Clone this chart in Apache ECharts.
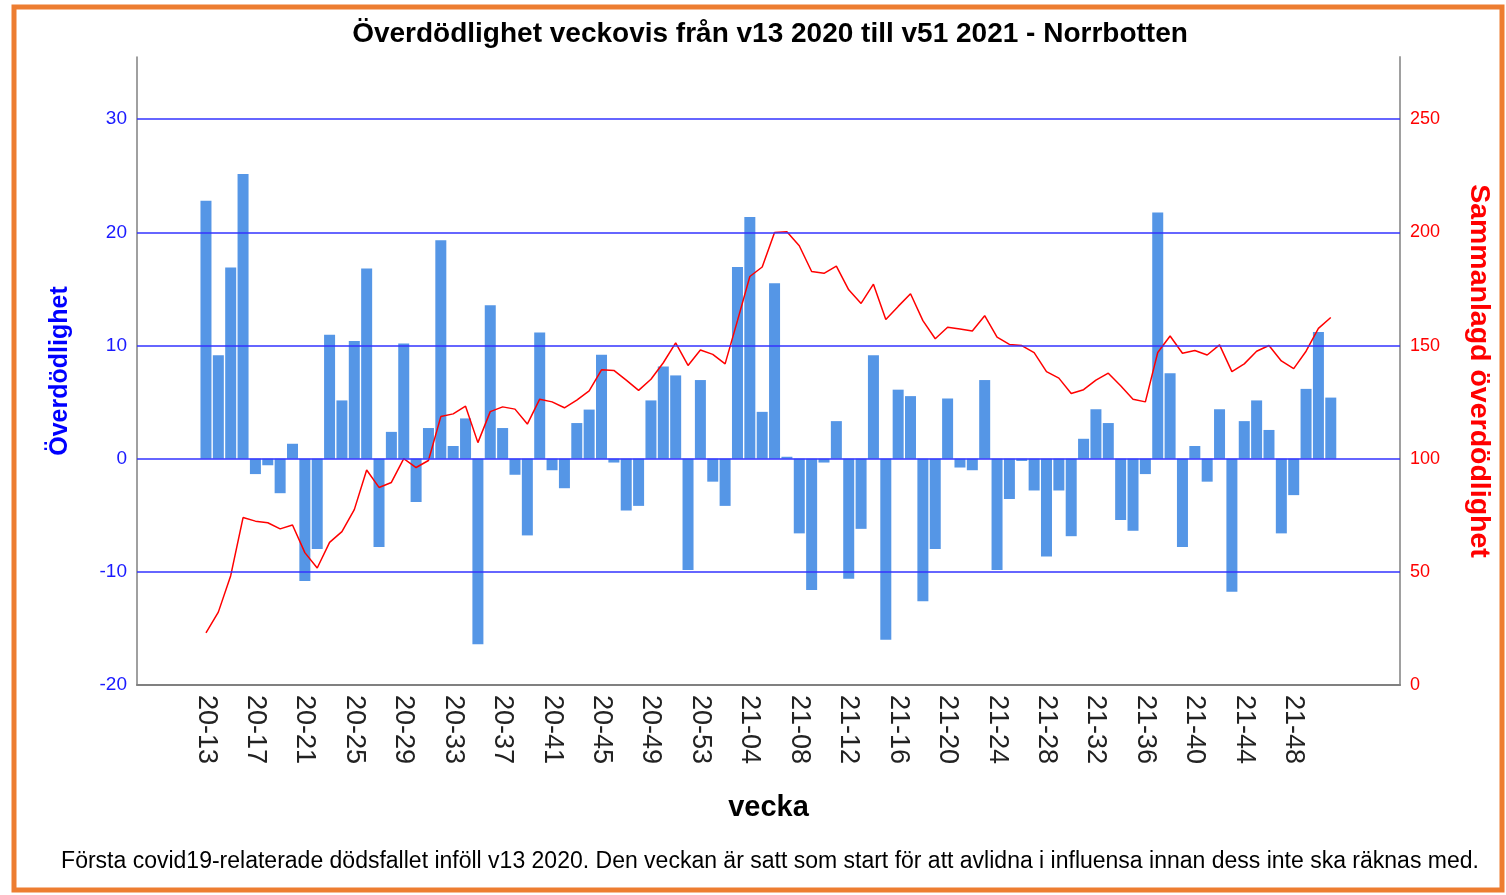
<!DOCTYPE html>
<html style="height: 100%">
<head>
<meta charset="utf-8">
</head>
<body style="height: 100%; margin: 0; background: #fff">
	<div id="container" style="width: 1506px; height: 895px"></div>
	<script type="text/javascript" src="https://cdn.jsdelivr.net/npm/echarts/dist/echarts.min.js"></script>
	<script type="text/javascript">
		var FONT = 'Liberation Sans, Arial, sans-serif';

		// veckor v13 2020 .. v51 2021
		var weeks = [ '20-13', '20-14', '20-15', '20-16', '20-17', '20-18',
				'20-19', '20-20', '20-21', '20-22', '20-23', '20-24', '20-25',
				'20-26', '20-27', '20-28', '20-29', '20-30', '20-31', '20-32',
				'20-33', '20-34', '20-35', '20-36', '20-37', '20-38', '20-39',
				'20-40', '20-41', '20-42', '20-43', '20-44', '20-45', '20-46',
				'20-47', '20-48', '20-49', '20-50', '20-51', '20-52', '20-53',
				'21-01', '21-02', '21-03', '21-04', '21-05', '21-06', '21-07',
				'21-08', '21-09', '21-10', '21-11', '21-12', '21-13', '21-14',
				'21-15', '21-16', '21-17', '21-18', '21-19', '21-20', '21-21',
				'21-22', '21-23', '21-24', '21-25', '21-26', '21-27', '21-28',
				'21-29', '21-30', '21-31', '21-32', '21-33', '21-34', '21-35',
				'21-36', '21-37', '21-38', '21-39', '21-40', '21-41', '21-42',
				'21-43', '21-44', '21-45', '21-46', '21-47', '21-48', '21-49',
				'21-50', '21-51' ];

		// överdödlighet per vecka
		var excess = [ 22.8, 9.15, 16.9, 25.15, -1.36, -0.58, -3.05, 1.32, -10.8,
				-7.97, 10.95, 5.15, 10.4, 16.8, -7.8, 2.37, 10.17, -3.83, 2.71,
				19.3, 1.12, 3.56, -16.4, 13.56, 2.71, -1.42, -6.78, 11.15, -1.02,
				-2.61, 3.15, 4.34, 9.19, -0.34, -4.58, -4.17, 5.15, 8.14, 7.36,
				-9.83, 6.95, -2.03, -4.17, 16.95, 21.36, 4.14, 15.5, 0.17, -6.6,
				-11.6, -0.34, 3.32, -10.6, -6.2, 9.15, -16.0, 6.1, 5.53, -12.6,
				-7.97, 5.32, -0.78, -1.02, 6.95, -9.83, -3.56, -0.2, -2.81, -8.64,
				-2.81, -6.85, 1.76, 4.37, 3.15, -5.42, -6.37, -1.36, 21.76, 7.56,
				-7.8, 1.12, -2.03, 4.37, -11.76, 3.32, 5.15, 2.54, -6.6, -3.22,
				6.17, 11.2, 5.4 ];

		// sammanlagd överdödlighet
		var cumulative = [ 23, 32.2, 48.3, 74, 72.4, 71.7, 69, 70.7, 58.5, 51.7,
				63, 67.8, 77.5, 95, 87.3, 89.5, 100, 96.1, 99.2, 118.6, 119.8,
				123.2, 107.1, 120.8, 122.9, 121.9, 115.3, 126.3, 125.1, 122.5,
				125.9, 130, 139.3, 139, 134.7, 130.2, 135.1, 142.4, 151.2, 141.2,
				148, 146.1, 141.9, 161, 180.5, 184.7, 200, 200.3, 194.1, 182.7,
				181.9, 185.1, 174.6, 168.6, 177.1, 161.5, 167.3, 172.9, 161, 153,
				158.1, 157.3, 156.4, 163.2, 153.7, 150.5, 150, 146.9, 138.5,
				135.6, 128.8, 130.5, 134.7, 137.8, 132.2, 126.3, 125.1, 146.9,
				154.2, 146.6, 147.8, 145.8, 150.3, 138.5, 141.9, 147.5, 150,
				143.2, 139.8, 147.5, 157.6, 162.4 ];

		var weekTicks = [ 0, 4, 8, 12, 16, 20, 24, 28, 32, 36, 40, 44, 48, 52,
				56, 60, 64, 68, 72, 76, 80, 84, 88 ];
		var leftTicks = [ -20, -10, 0, 10, 20, 30 ];
		var rightTicks = [ 0, 50, 100, 150, 200, 250 ];
		var gridValues = [ -10, 0, 10, 20, 30 ];

		var barData = excess.map(function(v, i) {
			return [ i, v ];
		});
		var lineData = cumulative.map(function(v, i) {
			return [ i, v ];
		});

		var myChart = echarts.init(document.getElementById('container'));
		var option = {
			animation : false,
			textStyle : {
				fontFamily : FONT
			},
			graphic : [ {
				type : 'rect',
				shape : {
					x : 14,
					y : 7,
					width : 1488,
					height : 883
				},
				style : {
					fill : 'transparent',
					stroke : '#ED7D31',
					lineWidth : 5
				},
				silent : true
			}, {
				type : 'text',
				x : 770,
				y : 34,
				style : {
					text : 'Överdödlighet veckovis från v13 2020 till v51 2021 - Norrbotten',
					font : 'bold 28px ' + FONT,
					fill : '#000',
					align : 'center',
					verticalAlign : 'middle',
					textAlign : 'center',
					textVerticalAlign : 'middle'
				}
			}, {
				type : 'text',
				x : 770,
				y : 862,
				style : {
					text : 'Första covid19-relaterade dödsfallet inföll v13 2020. Den veckan är satt som start för att avlidna i influensa innan dess inte ska räknas med.',
					font : '23px ' + FONT,
					fill : '#000',
					align : 'center',
					verticalAlign : 'middle',
					textAlign : 'center',
					textVerticalAlign : 'middle'
				}
			} ],
			grid : {
				left : 137,
				right : 106,
				top : 57,
				bottom : 210
			},
			xAxis : {
				type : 'value',
				min : -5.58,
				max : 96.6,
				name : 'vecka',
				nameLocation : 'middle',
				nameGap : 108,
				nameTextStyle : {
					fontSize : 29,
					fontWeight : 'bold',
					color : '#000'
				},
				axisLine : {
					onZero : false,
					lineStyle : {
						color : '#808080',
						width : 2
					}
				},
				axisTick : {
					show : false
				},
				splitLine : {
					show : false
				},
				axisLabel : {
					customValues : weekTicks,
					rotate : -90,
					margin : 10,
					fontSize : 27,
					color : '#222',
					formatter : function(v) {
						return weeks[v];
					}
				}
			},
			yAxis : [ {
				type : 'value',
				min : -20,
				max : 35.5,
				interval : 10,
				name : 'Överdödlighet',
				nameLocation : 'middle',
				nameGap : 64,
				nameRotate : 90,
				nameTextStyle : {
					fontSize : 25,
					fontWeight : 'bold',
					color : '#0000ff',
					padding : [ 0, 0, 0, 0 ]
				},
				axisLine : {
					show : true,
					onZero : false,
					lineStyle : {
						color : '#808080',
						width : 1.5
					}
				},
				axisTick : {
					show : false
				},
				splitLine : {
					show : false
				},
				axisLabel : {
					customValues : leftTicks,
					fontSize : 19,
					color : '#1a1aff',
					margin : 10
				}
			}, {
				type : 'value',
				min : 0,
				max : 277.5,
				interval : 50,
				name : 'Sammanlagd överdödlighet',
				nameLocation : 'middle',
				nameGap : 64,
				nameRotate : -90,
				nameTextStyle : {
					fontSize : 28.5,
					fontWeight : 'bold',
					color : '#ff0000'
				},
				axisLine : {
					show : true,
					onZero : false,
					lineStyle : {
						color : '#a0a0a0',
						width : 2
					}
				},
				axisTick : {
					show : false
				},
				splitLine : {
					show : false
				},
				axisLabel : {
					customValues : rightTicks,
					fontSize : 18,
					color : '#ff0000',
					margin : 10
				}
			} ],
			series : [ {
				name : 'Överdödlighet',
				type : 'bar',
				yAxisIndex : 0,
				barWidth : 11,
				itemStyle : {
					color : '#5596e6'
				},
				data : barData,
				markLine : {
					silent : true,
					symbol : 'none',
					label : {
						show : false
					},
					lineStyle : {
						color : '#3333ff',
						type : 'solid',
						width : 1.5
					},
					data : gridValues.map(function(v) {
						return {
							yAxis : v
						};
					})
				}
			}, {
				name : 'Sammanlagd överdödlighet',
				type : 'line',
				yAxisIndex : 1,
				showSymbol : false,
				symbol : 'none',
				lineStyle : {
					color : '#ff0000',
					width : 1.5
				},
				data : lineData
			} ]
		};
		myChart.setOption(option);
	</script>
</body>
</html>
